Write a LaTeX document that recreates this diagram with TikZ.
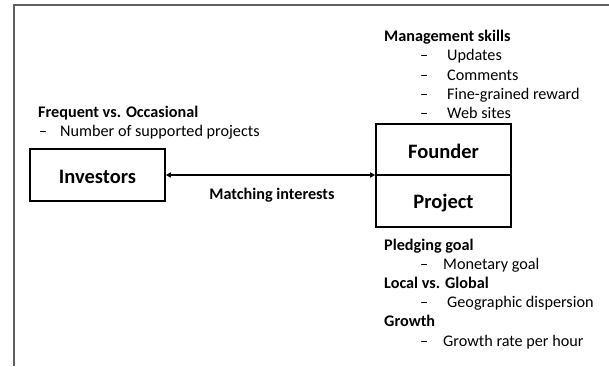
\documentclass[tikz,border=0pt]{standalone}
\usepackage{fontspec}
\setmainfont{Carlito}
\usetikzlibrary{arrows.meta}
\tikzset{
  txt/.style={anchor=mid west, inner sep=0pt, yshift=-3pt, font=\fontsize{16.2}{19}\selectfont},
  hdr/.style={txt, font=\fontsize{16.2}{19}\selectfont\bfseries},
  boxlbl/.style={anchor=center, inner sep=0pt, yshift=-2pt, font=\fontsize{20.5}{24}\selectfont\bfseries},
  box/.style={draw, line width=1.6pt},
  frameline/.style={draw=black!62, line width=1.4pt},
  link/.style={line width=1.5pt, {Triangle[length=5pt,width=5pt]}-{Triangle[length=5pt,width=5pt]}}
}
\begin{document}
\begin{tikzpicture}[x=1pt,y=-1pt]
\useasboundingbox (0,0) rectangle (609,366);
% frame
\coordinate (fa) at (14,366);
\coordinate (fb) at (14,5);
\coordinate (fc) at (609,5);
\draw[frameline] (fa) -- (fb) -- (fc);
% boxes
\node[box, minimum width=135pt, minimum height=52pt, inner sep=0pt] (inv) at (97.5,175) {};
\node[boxlbl] (invt) at (inv.center) {Investors};
\node[box, minimum width=135pt, minimum height=51pt, inner sep=0pt] (fou) at (443.5,149.5) {};
\node[box, minimum width=135pt, minimum height=52pt, inner sep=0pt] (pro) at (443.5,201) {};
\node[boxlbl] (fout) at (fou.center) {Founder};
\node[boxlbl] (prot) at (pro.center) {Project};
% connector
\draw[link] (inv.east) -- (inv.east -| fou.west);
\node[hdr, anchor=mid] (mi) at (272,194) {Matching interests};
% investors text
\node[hdr] (fo) at (38,112) {Frequent vs. Occasional};
\node[txt] (d0) at (39,131) {--};
\node[txt] (nsp) at (60,131) {Number of supported projects};
% management
\node[hdr] (ms) at (384,36) {Management skills};
\node[txt] (d1) at (420,55) {--};
\node[txt] (up) at (447,55) {Updates};
\node[txt] (d2) at (420,75) {--};
\node[txt] (co) at (447,75) {Comments};
\node[txt] (d3) at (420,94) {--};
\node[txt] (fg) at (447,94) {Fine-grained reward};
\node[txt] (d4) at (420,113) {--};
\node[txt] (ws) at (447,113) {Web sites};
% project
\node[hdr] (pg) at (384,245) {Pledging goal};
\node[txt] (d5) at (420,264) {--};
\node[txt] (mg) at (443,264) {Monetary goal};
\node[hdr] (lg) at (384,283) {Local vs. Global};
\node[txt] (d6) at (420,302) {--};
\node[txt] (gd) at (447,302) {Geographic dispersion};
\node[hdr] (gr) at (384,321) {Growth};
\node[txt] (d7) at (420,341) {--};
\node[txt] (grh) at (443,341) {Growth rate per hour};
\end{tikzpicture}
\end{document}
